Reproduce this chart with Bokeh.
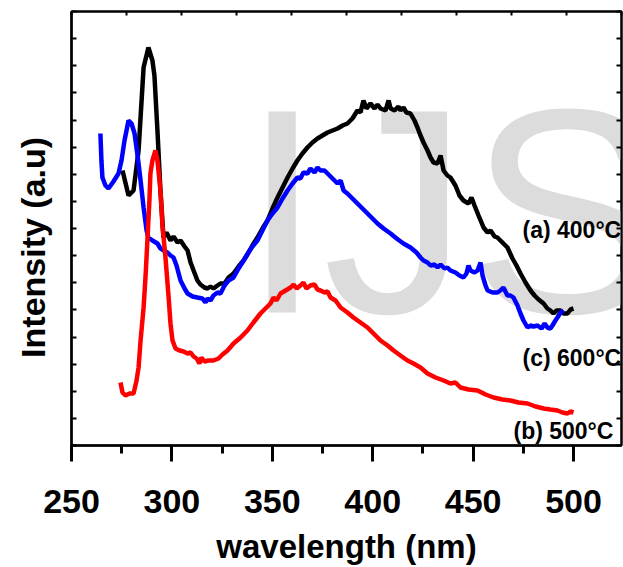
from bokeh.plotting import figure
from bokeh.models import (Range1d, LinearAxis, SingleIntervalTicker, FixedTicker, Label)
from bokeh.embed import file_html
from bokeh.resources import INLINE

# ---- data (wavelength in nm, intensity in arbitrary units) ----
x_400 = [275.4, 278.4, 280.9, 283.4, 285.9, 288.3, 290.3, 291.3, 292.8, 294.3, 295.8, 297.3, 299.3, 300.8,
         302.8, 304.3, 306.3, 307.8, 309.3, 310.8, 312.7, 314.2, 316.2, 317.7, 319.2, 320.7, 322.7, 324.2,
         326.2, 328.2, 330.7, 333.2, 335.7, 337.6, 340.1, 342.6, 345.1, 347.6, 350.1, 352.6, 355.1, 357.6,
         360.1, 362.5, 365.0, 367.5, 370.0, 372.5, 375.0, 377.5, 380.0, 382.5, 385.0, 387.4, 389.9, 392.4,
         393.9, 395.4, 396.9, 398.9, 400.9, 402.4, 403.9, 406.4, 407.9, 408.9, 410.9, 412.8, 413.8, 415.3,
         416.8, 418.8, 420.8, 422.3, 423.8, 425.3, 427.3, 428.8, 430.3, 432.3, 433.8, 435.3, 437.2, 438.7,
         441.2, 443.2, 445.2, 447.7, 449.2, 450.7, 452.7, 455.2, 457.2, 458.7, 460.7, 462.1, 464.6, 467.1,
         469.6, 471.6, 473.6, 476.1, 478.6, 480.6, 482.6, 485.1, 487.0, 488.5, 490.0, 491.5, 493.5, 495.0,
         497.0, 498.5, 500.0]
y_400 = [275, 250, 255, 295, 378, 398, 385, 370, 315, 255, 208, 213, 205, 209,
         203, 205, 199, 195, 183, 175, 165, 161, 158, 157, 159, 157, 160, 162,
         162, 168, 172, 179, 185, 191, 200, 208, 217, 225, 237, 248, 258, 268,
         277, 285, 292, 298, 303, 307, 310, 313, 315, 317, 320, 322, 327, 335,
         333, 345, 337, 342, 337, 341, 337, 335, 345, 337, 335, 339, 335, 338,
         333, 332, 325, 318, 310, 303, 295, 288, 283, 282, 290, 275, 270, 268,
         260, 250, 245, 242, 248, 240, 230, 218, 213, 215, 209, 208, 203, 198,
         187, 180, 172, 163, 155, 150, 146, 142, 137, 135, 132, 135, 135, 132,
         132, 136, 137]

x_600 = [264.4, 264.9, 265.4, 266.9, 268.4, 270.9, 273.4, 274.9, 276.4, 278.4, 279.9, 281.4, 282.9, 284.4,
         285.9, 287.4, 288.3, 290.3, 292.8, 294.3, 295.8, 297.8, 299.3, 300.8, 302.3, 304.3, 306.3, 307.8,
         310.3, 312.7, 315.2, 316.7, 317.7, 319.2, 320.7, 322.7, 324.2, 326.2, 328.2, 330.7, 333.2, 335.7,
         338.1, 340.1, 342.6, 345.1, 347.6, 350.1, 352.6, 355.1, 357.6, 360.1, 362.5, 364.0, 365.5, 367.5,
         369.0, 371.0, 372.5, 374.0, 376.0, 377.5, 380.0, 382.5, 384.0, 385.5, 387.4, 389.9, 392.4, 394.9,
         397.4, 399.9, 402.4, 405.4, 408.9, 411.9, 415.3, 418.8, 421.8, 423.8, 425.3, 427.3, 428.8, 430.8,
         432.3, 433.8, 435.8, 437.2, 438.7, 441.2, 443.2, 445.2, 446.7, 447.7, 448.7, 450.7, 452.2, 453.7,
         454.7, 456.2, 457.2, 459.7, 462.1, 463.6, 465.1, 467.1, 468.6, 470.1, 472.1, 473.6, 475.1, 477.1,
         478.6, 480.1, 482.1, 484.1, 485.6, 487.0, 488.5, 489.5, 491.0, 492.0, 493.5, 495.0]
y_600 = [312, 285, 268, 260, 257, 264, 272, 285, 305, 325, 322, 312, 290, 265,
         238, 215, 208, 205, 202, 197, 195, 193, 190, 188, 180, 165, 157, 152,
         149, 148, 147, 143, 147, 145, 150, 153, 152, 160, 165, 168, 177, 185,
         193, 199, 205, 215, 225, 232, 238, 247, 255, 262, 268, 267, 273, 272,
         277, 273, 278, 275, 275, 272, 267, 262, 265, 255, 252, 247, 242, 237,
         232, 227, 222, 217, 212, 207, 202, 198, 193, 188, 185, 183, 180, 181,
         178, 181, 177, 178, 175, 173, 170, 168, 172, 180, 175, 173, 175, 183,
         170, 160, 155, 153, 153, 155, 158, 150, 150, 148, 140, 132, 125, 118,
         120, 119, 120, 117, 122, 118, 117, 120, 125, 128, 133, 135]

x_500 = [274.4, 275.4, 276.9, 278.9, 280.9, 282.4, 283.4, 284.4, 285.9, 286.9, 287.8, 288.8, 289.3, 290.3,
         291.8, 292.8, 294.3, 295.3, 296.8, 298.3, 299.3, 300.3, 301.8, 303.8, 305.8, 307.8, 309.3, 310.8,
         312.3, 313.7, 314.7, 316.2, 318.2, 320.7, 323.2, 325.2, 327.7, 330.7, 334.2, 337.6, 340.6, 344.1,
         346.6, 349.1, 350.6, 352.1, 354.1, 356.6, 359.1, 360.6, 362.1, 364.0, 365.5, 367.0, 369.0, 371.0,
         372.5, 374.0, 376.0, 377.5, 379.0, 381.5, 384.0, 387.4, 390.4, 393.9, 397.4, 400.4, 403.9, 407.4,
         410.4, 413.8, 417.3, 420.3, 423.8, 427.3, 431.3, 435.3, 438.7, 441.2, 443.7, 447.7, 452.2, 456.2,
         460.2, 464.6, 468.6, 472.6, 477.1, 481.1, 485.1, 488.5, 492.0, 494.5, 497.0, 498.5, 500.0]
y_500 = [63, 53, 50, 52, 52, 65, 78, 105, 138, 170, 205, 245, 272, 285,
         295, 285, 255, 220, 188, 150, 122, 105, 97, 95, 94, 92, 93, 89,
         87, 82, 88, 84, 85, 85, 87, 91, 95, 102, 108, 115, 123, 132,
         137, 142, 148, 145, 152, 155, 158, 161, 157, 160, 163, 157, 160, 161,
         156, 155, 153, 154, 148, 145, 138, 133, 128, 123, 118, 112, 105, 100,
         95, 90, 85, 82, 78, 72, 68, 65, 62, 63, 58, 56, 55, 51,
         48, 46, 45, 43, 42, 39, 37, 36, 35, 33, 32, 34, 33]

series_labels = ["(a) 400\u00b0C", "(c) 600\u00b0C", "(b) 500\u00b0C"]

FONT = "Liberation Sans"

p = figure(width=623, height=567, output_backend="svg", toolbar_location=None,
           x_range=Range1d(250, 523.9), y_range=Range1d(0, 434),
           min_border_left=71, min_border_right=2, min_border_top=11, min_border_bottom=122,
           x_axis_label="wavelength (nm)",
           y_axis_label="Intensity (a.u)" + "\u00a0" * 4)
p.background_fill_color = "white"
p.border_fill_color = "white"
p.outline_line_color = "black"
p.outline_line_width = 2
p.xgrid.visible = False
p.ygrid.visible = False

# bottom axis
xa = p.xaxis[0]
xa.ticker = SingleIntervalTicker(interval=50, num_minor_ticks=2)
xa.major_tick_out = 16
xa.major_tick_in = 0
xa.minor_tick_out = 8
xa.minor_tick_in = 0
xa.major_tick_line_width = 3
xa.minor_tick_line_width = 3
xa.axis_line_width = 2.5
xa.major_label_text_font = FONT
xa.major_label_text_font_style = "bold"
xa.major_label_text_font_size = "34px"
xa.major_label_text_color = "black"
xa.major_label_standoff = 28
xa.axis_label_text_font = FONT
xa.axis_label_text_font_style = "bold"
xa.axis_label_text_font_size = "33px"
xa.axis_label_text_color = "black"
xa.axis_label_standoff = 12

# left axis: inward ticks, no labels
ya = p.yaxis[0]
yt = [i * 434 / 16 for i in range(17)]
ya.ticker = FixedTicker(ticks=yt, minor_ticks=[])
ya.major_tick_in = 5
ya.major_tick_out = 0
ya.major_tick_line_width = 2
ya.axis_line_width = 2.5
ya.major_label_text_font_size = "0px"
ya.major_label_standoff = 0
ya.axis_label_text_font = FONT
ya.axis_label_text_font_style = "bold"
ya.axis_label_text_font_size = "34px"
ya.axis_label_text_color = "black"
ya.axis_label_standoff = 20

# right axis
ra = LinearAxis(ticker=FixedTicker(ticks=yt, minor_ticks=[]), major_tick_in=5, major_tick_out=0,
                major_tick_line_width=2, axis_line_width=2, major_label_text_font_size="0px",
                major_label_standoff=0)
p.add_layout(ra, "right")

# top axis
p.extra_x_ranges = {"top": Range1d(0, 10)}
ta = LinearAxis(x_range_name="top", ticker=SingleIntervalTicker(interval=1, num_minor_ticks=0),
                major_tick_in=4, major_tick_out=0, minor_tick_in=0, minor_tick_out=0,
                major_tick_line_width=2, axis_line_width=2, major_label_text_font_size="0px",
                major_label_standoff=0)
p.add_layout(ta, "above")

# watermark
wm = Label(x=334.7, y=234, text="IJS", text_font=FONT, text_font_size="292px",
           text_color="#dcdcdc", text_baseline="alphabetic", text_align="left", level="underlay")
p.add_layout(wm)

# curves
p.line(x_400, y_400, line_color="black", line_width=4.5)
p.line(x_600, y_600, line_color="#0000ff", line_width=4.5)
p.line(x_500, y_500, line_color="#ff0000", line_width=4.5)

# curve labels
for txt, lx, ly in zip(series_labels, [474.6, 474.6, 470.1], [216, 88, 15]):
    p.add_layout(Label(x=lx, y=ly, text=txt, text_font=FONT, text_font_style="bold",
                       text_font_size="23px", text_color="black", text_baseline="middle",
                       text_align="left"))

open("out.html", "w").write(file_html(p, INLINE))
